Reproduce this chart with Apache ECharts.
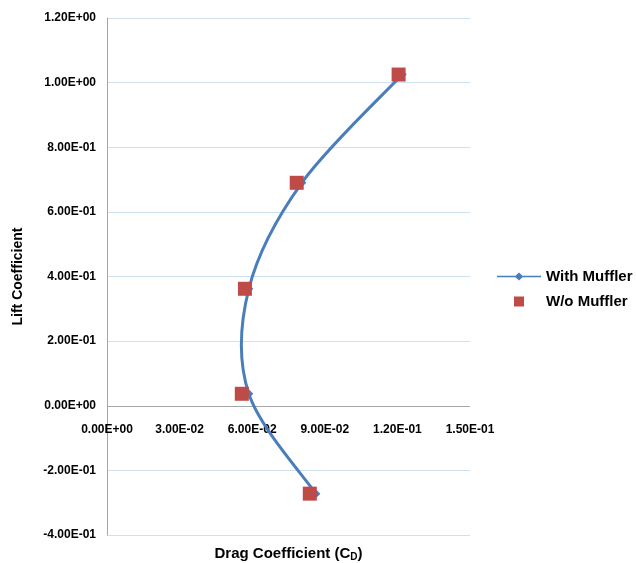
<!DOCTYPE html>
<html>
<head>
<meta charset="utf-8">
<script src="https://cdn.jsdelivr.net/npm/echarts@6/dist/echarts.min.js"></script>
<style>
  html, body { margin: 0; padding: 0; background: #fff; }
  #chart { width: 636px; height: 563px; }
</style>
</head>
<body>
<div id="chart"></div>
<script>
// Drag / lift coefficients at each test point
const withMufflerCd = [0.0863, 0.0586, 0.0586, 0.0805, 0.1220];
const withMufflerCl = [-0.272, 0.037, 0.362, 0.690, 1.025];
const withoutMufflerCd = [0.0838, 0.0557, 0.0570, 0.0784, 0.1205];
const withoutMufflerCl = [-0.272, 0.037, 0.362, 0.690, 1.025];
const seriesNames = ['With Muffler', 'W/o Muffler'];
const xTicks = { min: 0, max: 0.15, step: 0.03 };
const yTicks = { min: -0.4, max: 1.2, step: 0.2 };

// Scientific label in the form 1.20E-01
function sci(v) {
  if (Math.abs(v) < 1e-12) return '0.00E+00';
  let e = Math.floor(Math.log10(Math.abs(v)) + 1e-9);
  let s = (v / Math.pow(10, e)).toFixed(2);
  if (Math.abs(parseFloat(s)) >= 10) { e += 1; s = (v / Math.pow(10, e)).toFixed(2); }
  const ae = Math.abs(e);
  return s + 'E' + (e < 0 ? '-' : '+') + (ae < 10 ? '0' + ae : '' + ae);
}

const pairs = (xs, ys) => xs.map((x, i) => [x, ys[i]]);
const font = 'Arial, "Liberation Sans", sans-serif';
const blue = '#4a7ebb';
const red = '#be4b48';
const axisGrey = '#a6a6a6';

// Smoothed curve through the points (cardinal spline as cubic Beziers)
function smoothPath(pts) {
  let d = 'M' + pts[0][0] + ' ' + pts[0][1];
  for (let i = 0; i < pts.length - 1; i++) {
    const p0 = pts[Math.max(i - 1, 0)], p1 = pts[i], p2 = pts[i + 1], p3 = pts[Math.min(i + 2, pts.length - 1)];
    const c1 = [p1[0] + (p2[0] - p0[0]) / 6, p1[1] + (p2[1] - p0[1]) / 6];
    const c2 = [p2[0] - (p3[0] - p1[0]) / 6, p2[1] - (p3[1] - p1[1]) / 6];
    d += ' C' + c1[0] + ' ' + c1[1] + ' ' + c2[0] + ' ' + c2[1] + ' ' + p2[0] + ' ' + p2[1];
  }
  return d;
}

function renderWithMuffler(params, api) {
  const p = api.coord([api.value(0), api.value(1)]);
  const r = 4.5;
  const diamond = {
    type: 'polygon',
    shape: { points: [[p[0], p[1] - r], [p[0] + r, p[1]], [p[0], p[1] + r], [p[0] - r, p[1]]] },
    style: { fill: blue }
  };
  if (params.dataIndex !== 0) return diamond;
  const pts = withMufflerCd.map((x, i) => api.coord([x, withMufflerCl[i]]));
  return {
    type: 'group',
    children: [
      { type: 'path', shape: { pathData: smoothPath(pts) },
        style: { fill: 'none', stroke: blue, lineWidth: 3, lineJoin: 'round' } },
      diamond
    ]
  };
}

const chart = echarts.init(document.getElementById('chart'));
chart.setOption({
  animation: false,
  grid: { left: 107, right: 166, top: 18, bottom: 28, outerBoundsMode: 'none', containLabel: false },
  xAxis: {
    type: 'value', min: xTicks.min, max: xTicks.max, interval: xTicks.step,
    // labels sit just under the zero line; the zero line itself is a markLine below
    axisLine: { show: false, onZero: false },
    axisTick: { show: false },
    splitLine: { show: false },
    axisLabel: { formatter: sci, color: '#000', fontFamily: font, fontWeight: 'bold', fontSize: 12, margin: -111 },
    name: 'Drag Coefficient (C{sub|D})',
    nameLocation: 'middle', nameGap: 10,
    nameTextStyle: {
      color: '#000', fontFamily: font, fontWeight: 'bold', fontSize: 15,
      rich: { sub: { fontSize: 10, fontWeight: 'bold', fontFamily: font, color: '#000', verticalAlign: 'bottom', padding: [7, 0, 0, 0] } }
    }
  },
  yAxis: {
    type: 'value', min: yTicks.min, max: yTicks.max, interval: yTicks.step,
    axisLine: { show: true, onZero: false, lineStyle: { color: axisGrey, width: 1 } },
    axisTick: { show: false },
    splitLine: { show: true, lineStyle: { color: '#cfe0ee', width: 1 } },
    axisLabel: { formatter: sci, color: '#000', fontFamily: font, fontWeight: 'bold', fontSize: 12, margin: 11 },
    name: 'Lift Coefficient',
    nameLocation: 'middle', nameGap: 82,
    nameTextStyle: { color: '#000', fontFamily: font, fontWeight: 'bold', fontSize: 14 }
  },
  legend: {
    orient: 'vertical', left: 492, top: 264,
    itemWidth: 44, itemHeight: 10, itemGap: 10,
    textStyle: { color: '#000', fontFamily: font, fontWeight: 'bold', fontSize: 15 },
    data: [
      { name: seriesNames[0], icon: 'path://M0,4.2H18.5L22,1L25.5,4.2H44V5.8H25.5L22,9L18.5,5.8H0Z', itemStyle: { color: blue } },
      { name: seriesNames[1], icon: 'path://M0,0h10v10h-10z', itemStyle: { color: red } }
    ]
  },
  series: [
    {
      name: seriesNames[0], type: 'custom',
      data: pairs(withMufflerCd, withMufflerCl),
      encode: { x: 0, y: 1 },
      renderItem: renderWithMuffler,
      itemStyle: { color: blue },
      z: 2,
      markLine: {
        silent: true, symbol: 'none', label: { show: false },
        lineStyle: { color: axisGrey, type: 'solid', width: 1 },
        data: [{ yAxis: 0 }],
        z: 1
      }
    },
    {
      name: seriesNames[1], type: 'scatter',
      data: pairs(withoutMufflerCd, withoutMufflerCl),
      symbol: 'rect', symbolSize: 14,
      itemStyle: { color: red, opacity: 1 },
      z: 3
    }
  ]
});
</script>
</body>
</html>
